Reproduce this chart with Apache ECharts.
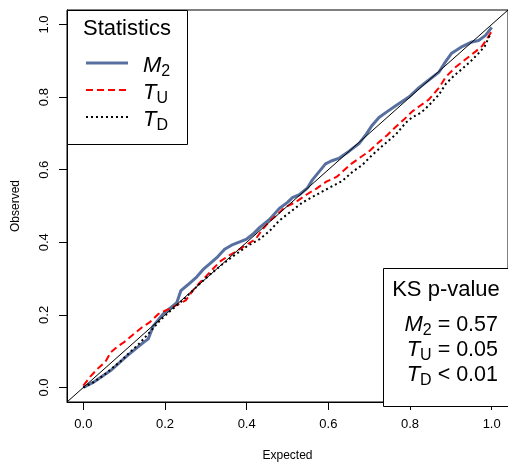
<!DOCTYPE html>
<html><head><meta charset="utf-8">
<script src="https://cdn.jsdelivr.net/npm/echarts@6/dist/echarts.min.js"></script>
<style>html,body{margin:0;padding:0;background:#fff}#c{width:508px;height:467px}</style>
</head><body><div id="c"></div>
<script>
const tickValues = [0, 0.2, 0.4, 0.6, 0.8, 1.0];
const refLine = [-0.04, 1.04];

const m2X = [0,0.024,0.066,0.107,0.146,0.159,0.171,0.195,0.217,0.229,0.239,0.256,0.278,0.295,0.310,0.329,0.346,0.363,0.383,0.400,0.415,0.432,0.456,0.480,0.500,0.512,0.529,0.549,0.561,0.585,0.593,0.607,0.627,0.651,0.676,0.693,0.707,0.724,0.744,0.766,0.798,0.822,0.846,0.871,0.888,0.902,0.924,0.949,0.968,0.985,1.0];
const m2Y = [0,0.014,0.046,0.087,0.123,0.134,0.169,0.202,0.223,0.234,0.267,0.283,0.305,0.327,0.341,0.360,0.381,0.392,0.401,0.409,0.422,0.441,0.463,0.493,0.510,0.523,0.531,0.550,0.572,0.605,0.616,0.624,0.632,0.651,0.673,0.698,0.722,0.744,0.760,0.777,0.801,0.826,0.847,0.869,0.899,0.921,0.937,0.951,0.956,0.970,0.992];

const tuX = [0,0.017,0.037,0.054,0.068,0.085,0.100,0.120,0.144,0.163,0.183,0.207,0.232,0.251,0.268,0.285,0.302,0.320,0.337,0.359,0.383,0.402,0.422,0.439,0.456,0.473,0.493,0.522,0.546,0.571,0.595,0.620,0.639,0.656,0.676,0.700,0.724,0.744,0.766,0.785,0.805,0.822,0.846,0.871,0.888,0.912,0.937,0.961,0.976,0.988,1.0];
const tuY = [0.005,0.030,0.054,0.071,0.098,0.114,0.125,0.144,0.166,0.180,0.202,0.215,0.229,0.240,0.267,0.289,0.308,0.330,0.349,0.365,0.381,0.395,0.409,0.436,0.458,0.474,0.496,0.512,0.531,0.548,0.567,0.580,0.599,0.616,0.632,0.651,0.676,0.695,0.719,0.738,0.760,0.774,0.793,0.826,0.856,0.883,0.905,0.926,0.940,0.959,0.981];

const tdX = [0,0.024,0.049,0.066,0.090,0.115,0.139,0.163,0.188,0.212,0.237,0.261,0.285,0.310,0.339,0.371,0.402,0.432,0.456,0.480,0.505,0.537,0.571,0.602,0.634,0.659,0.683,0.707,0.732,0.766,0.790,0.805,0.827,0.846,0.871,0.888,0.907,0.927,0.949,0.968,0.983,0.993,1.0];
const tdY = [0,0.014,0.033,0.049,0.071,0.098,0.123,0.153,0.185,0.210,0.234,0.259,0.286,0.311,0.338,0.365,0.390,0.409,0.431,0.460,0.482,0.510,0.531,0.550,0.569,0.594,0.613,0.640,0.665,0.698,0.730,0.744,0.757,0.777,0.807,0.837,0.858,0.877,0.899,0.921,0.940,0.965,0.975];

const legendTitle = 'Statistics';
const ksTitle = 'KS p-value';
const ksRows = [['M', '2', ' = 0.57'], ['T', 'U', ' = 0.05'], ['T', 'D', ' < 0.01']];
const legendRows = [['M', '2'], ['T', 'U'], ['T', 'D']];

const zip = (xs, ys) => xs.map((x, i) => [x, ys[i]]);
const FONT = 'Liberation Sans, Arial, Helvetica, sans-serif';
const BLUE = '#5870a0', RED = '#ff0000', BLACK = '#000000';

const rich = {
  i: {fontStyle: 'italic', fontSize: 22, lineHeight: 28, verticalAlign: 'middle', fontFamily: FONT, fill: '#000'},
  s: {fontSize: 16, lineHeight: 14, verticalAlign: 'bottom', fontFamily: FONT, fill: '#000'},
  n: {fontSize: 21.5, lineHeight: 28, verticalAlign: 'middle', fontFamily: FONT, fill: '#000'}
};

const chart = echarts.init(document.getElementById('c'), null, {renderer: 'canvas'});

const axisCommon = {
  type: 'value', min: -0.04, max: 1.04,
  splitLine: {show: false},
  axisLine: {show: true, onZero: false, lineStyle: {color: '#000', width: 1}},
  axisTick: {show: true, length: 8, lineStyle: {color: '#000'}, customValues: tickValues},
  axisLabel: {customValues: tickValues, formatter: v => v.toFixed(1), color: '#000', fontSize: 13, fontFamily: FONT, margin: 16},
  nameLocation: 'middle',
  nameTextStyle: {color: '#000', fontSize: 12, fontFamily: FONT}
};

const lineStyles = [
  {color: BLUE, width: 3, type: 'solid'},
  {color: RED, width: 2, type: [7, 4]},
  {color: BLACK, width: 2, type: [2, 3]}
];
const legendY = [63, 90, 117];
const ksY = [322, 347, 372];

const graphic = [
  {type: 'rect', z: 100, shape: {x: 67.5, y: 10.5, width: 120, height: 134}, style: {fill: '#fff', stroke: '#000', lineWidth: 1}},
  {type: 'text', z: 101, style: {text: legendTitle, x: 127, y: 29, align: 'center', verticalAlign: 'middle', fontSize: 22, fontFamily: FONT, fill: '#000'}},
  {type: 'rect', z: 100, shape: {x: 383.5, y: 268.5, width: 140, height: 138}, style: {fill: '#fff', stroke: '#000', lineWidth: 1}},
  {type: 'text', z: 101, style: {text: ksTitle, x: 446, y: 290, align: 'center', verticalAlign: 'middle', fontSize: 22, fontFamily: FONT, fill: '#000'}}
];
legendRows.forEach((r, k) => {
  const ls = lineStyles[k];
  graphic.push({type: 'line', z: 101, shape: {x1: 86, y1: legendY[k], x2: 128, y2: legendY[k]},
    style: {stroke: ls.color, lineWidth: ls.width, lineDash: ls.type === 'solid' ? null : ls.type}});
  graphic.push({type: 'text', z: 101, style: {text: '{i|' + r[0] + '}{s|' + r[1] + '}', x: 143, y: legendY[k] + 3, align: 'left', verticalAlign: 'middle', rich: rich}});
});
ksRows.forEach((r, k) => {
  graphic.push({type: 'text', z: 101, style: {text: '{i|' + r[0] + '}{s|' + r[1] + '}{n|' + r[2] + '}', x: 498, y: ksY[k] + 3, align: 'right', verticalAlign: 'middle', rich: rich}});
});

chart.setOption({
  animation: false,
  backgroundColor: '#fff',
  grid: {left: 67, top: 10, width: 442.6, height: 396.6, show: true, borderColor: '#000', borderWidth: 1, backgroundColor: 'transparent'},
  xAxis: Object.assign({}, axisCommon, {name: 'Expected', nameGap: 48}),
  yAxis: Object.assign({}, axisCommon, {name: 'Observed', nameGap: 45, axisLabel: Object.assign({}, axisCommon.axisLabel, {rotate: 90, margin: 16})}),
  series: [
    {type: 'line', name: 'M2', data: zip(m2X, m2Y), showSymbol: false, lineStyle: lineStyles[0], z: 3},
    {type: 'line', name: 'TU', data: zip(tuX, tuY), showSymbol: false, lineStyle: lineStyles[1], z: 4},
    {type: 'line', name: 'TD', data: zip(tdX, tdY), showSymbol: false, lineStyle: lineStyles[2], z: 5},
    {type: 'line', name: 'ref', data: zip(refLine, refLine), showSymbol: false, lineStyle: {color: '#000', width: 1}, z: 6}
  ],
  graphic: graphic
});
</script>
</body></html>
